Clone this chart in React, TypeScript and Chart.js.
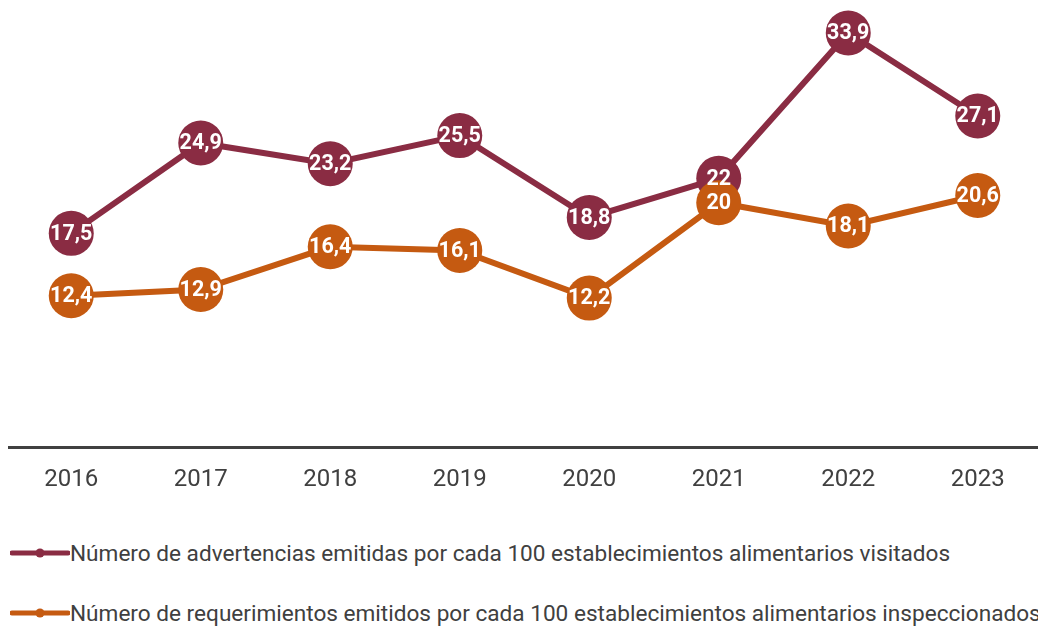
import React, { useEffect, useRef } from "react";
import { Chart, registerables } from "chart.js";

Chart.register(...registerables);

const years = ["2016", "2017", "2018", "2019", "2020", "2021", "2022", "2023"];
const advertencias = [17.5, 24.9, 23.2, 25.5, 18.8, 22, 33.9, 27.1];
const requerimientos = [12.4, 12.9, 16.4, 16.1, 12.2, 20, 18.1, 20.6];
const seriesNames = [
  "Número de advertencias emitidas por cada 100 establecimientos alimentarios visitados",
  "Número de requerimientos emitidos por cada 100 establecimientos alimentarios inspeccionados",
];
const colors = ["#8a2c43", "#c55a11"];
const FONT = "Roboto, 'Liberation Sans', Arial, sans-serif";

const fmt = (v: number) => String(v).replace(".", ",");

const labelPlugin = {
  id: "pointLabels",
  afterDatasetsDraw(chart: any) {
    const ctx = chart.ctx;
    ctx.save();
    ctx.fillStyle = "#ffffff";
    ctx.font = `bold 21.5px ${FONT}`;
    ctx.textAlign = "center";
    ctx.textBaseline = "middle";
    chart.data.datasets.forEach((ds: any, i: number) => {
      const meta = chart.getDatasetMeta(i);
      meta.data.forEach((el: any, j: number) => {
        ctx.fillText(fmt(ds.data[j]), el.x, el.y + 1);
      });
    });
    ctx.restore();
  },
};

function makeDataset(i: number, data: number[], order: number) {
  return {
    label: seriesNames[i],
    data,
    borderColor: colors[i],
    backgroundColor: colors[i],
    pointBackgroundColor: colors[i],
    pointBorderWidth: 0,
    pointRadius: 22.5,
    pointHoverRadius: 22.5,
    borderWidth: 6,
    tension: 0,
    clip: false as any,
    order,
  };
}

export default function App() {
  const ref = useRef<HTMLCanvasElement | null>(null);
  useEffect(() => {
    if (!ref.current) return;
    const chart = new Chart(ref.current, {
      type: "line",
      data: {
        labels: years,
        datasets: [makeDataset(0, advertencias, 1), makeDataset(1, requerimientos, 0)],
      },
      options: {
        animation: false,
        responsive: true,
        maintainAspectRatio: false,
        layout: { padding: 0 },
        plugins: { legend: { display: false }, tooltip: { enabled: false } },
        scales: {
          x: {
            offset: true,
            grid: { display: false, drawTicks: false },
            border: { display: true, color: "#404040", width: 3 },
            ticks: { color: "#404040", font: { family: FONT, size: 24 }, padding: 18 },
          },
          y: {
            display: false,
            min: 0,
            max: 34.1,
          },
        },
      },
      plugins: [labelPlugin],
    });
    return () => chart.destroy();
  }, []);

  return (
    <div style={{ fontFamily: FONT }}>
      <div style={{ marginLeft: -8, width: 1046, overflow: "hidden" }}>
        <div style={{ position: "relative", width: 1081, height: 504, marginLeft: -16 }}>
          <canvas ref={ref} />
        </div>
      </div>
      <div style={{ marginTop: 26 }}>
        {seriesNames.map((n, i) => (
          <div
            key={n}
            style={{ display: "flex", alignItems: "center", height: 30, marginBottom: 30, marginLeft: 2, color: "#404040", fontSize: 22.6, whiteSpace: "nowrap" }}
          >
            <svg width={60} height={10} style={{ flex: "none" }}>
              <line x1={2} y1={5} x2={58} y2={5} stroke={colors[i]} strokeWidth={5} strokeLinecap="round" />
              <circle cx={30} cy={5} r={4.5} fill={colors[i]} />
            </svg>
            <span>{n}</span>
          </div>
        ))}
      </div>
    </div>
  );
}
